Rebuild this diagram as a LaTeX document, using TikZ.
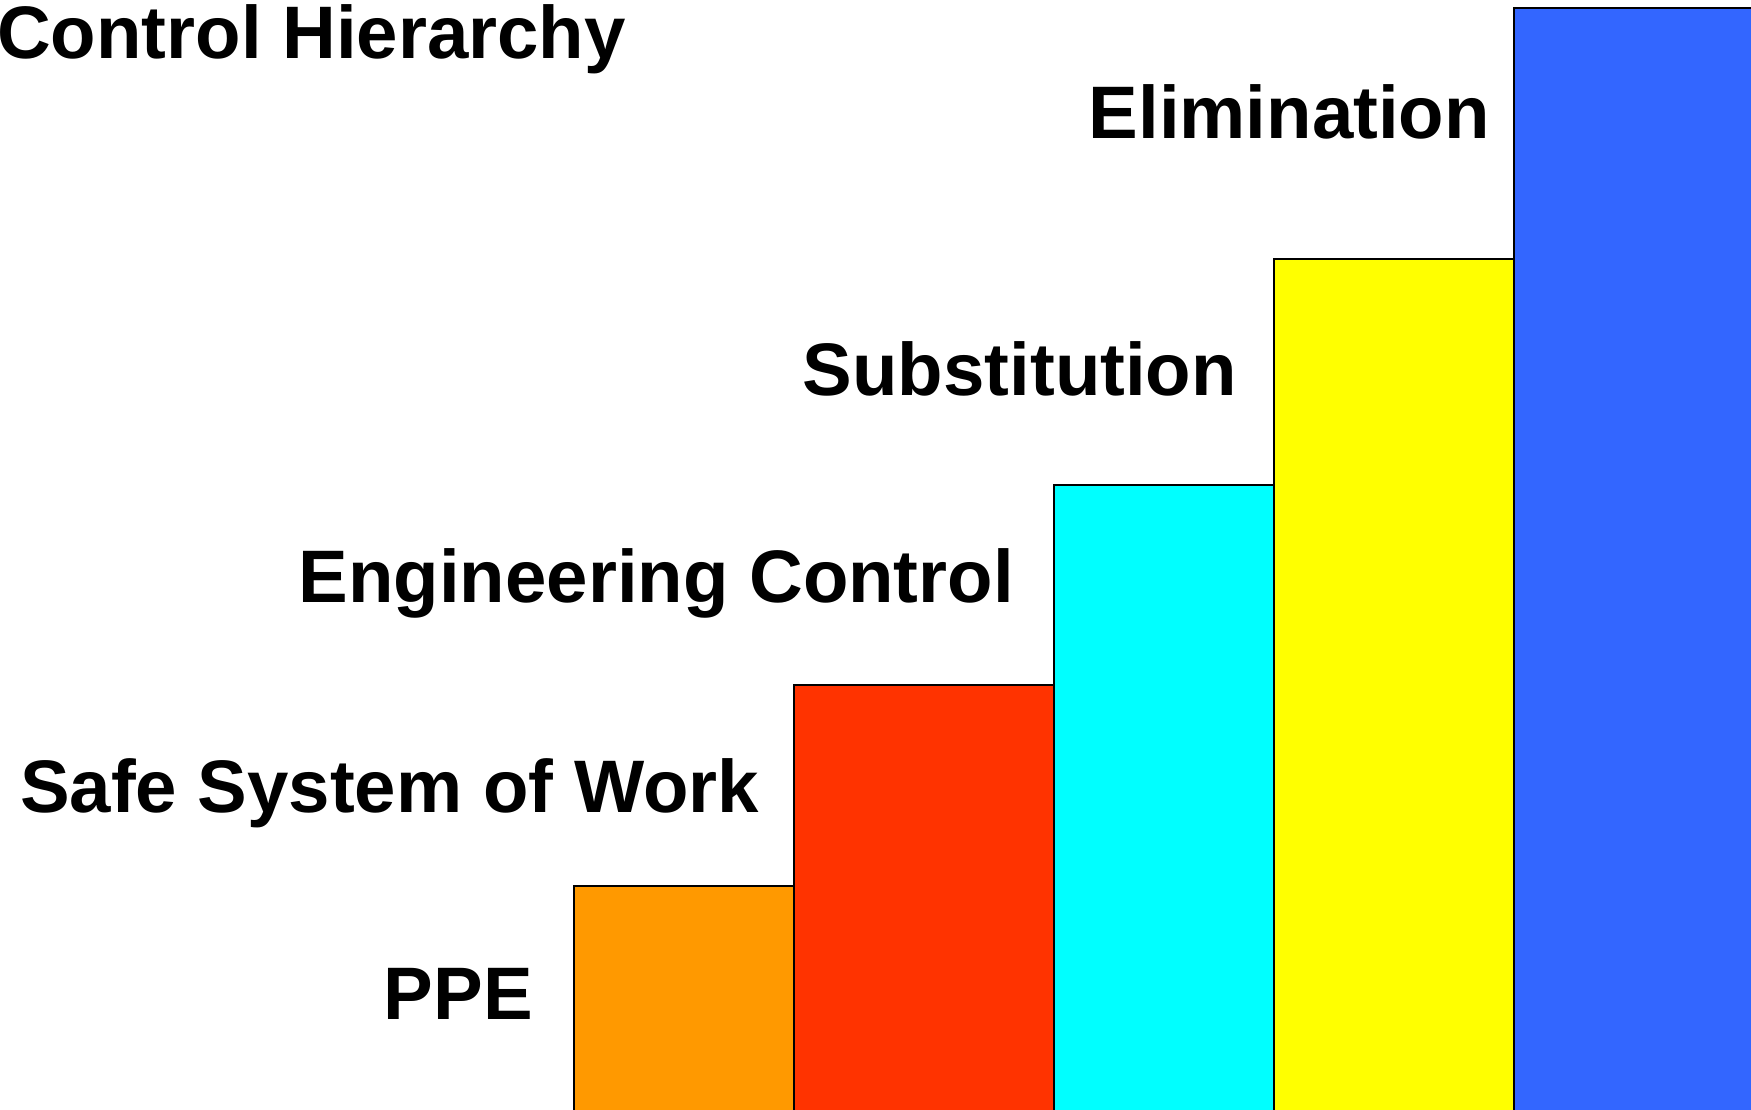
\documentclass[tikz,border=0pt]{standalone}
\usepackage{fontspec}
\setmainfont{Liberation Sans}
\definecolor{cOrange}{HTML}{FF9900}
\definecolor{cRed}{HTML}{FF3300}
\definecolor{cCyan}{HTML}{00FFFF}
\definecolor{cYellow}{HTML}{FFFF00}
\definecolor{cBlue}{HTML}{3366FF}
\tikzset{
  bar/.style={draw=black, line width=2pt, rectangle, inner sep=0pt, anchor=north west},
  lbl/.style={inner sep=0pt, anchor=base east, font=\fontsize{74.4}{80}\selectfont\bfseries},
  ttl/.style={inner sep=0pt, anchor=base west, font=\fontsize{74.4}{80}\selectfont\bfseries}
}
\begin{document}
\begin{tikzpicture}[x=1pt,y=-1pt]
\useasboundingbox (0,0) rectangle (1751,1110);
\clip (0,0) rectangle (1751,1110);
\fill[white] (0,0) rectangle (1751,1110);
\node[bar, fill=cOrange, minimum width=220pt, minimum height=240pt] (ppebar) at (573,885) {};
\node[bar, fill=cRed, minimum width=260pt, minimum height=440pt] (ssowbar) at (793,684) {};
\node[bar, fill=cCyan, minimum width=220pt, minimum height=640pt] (engbar) at (1053,484) {};
\node[bar, fill=cYellow, minimum width=240pt, minimum height=870pt] (subbar) at (1273,258) {};
\node[bar, fill=cBlue, minimum width=250pt, minimum height=1120pt] (elimbar) at (1513,7) {};
\node[ttl] (title) at (-3,59) {Control Hierarchy};
\node[lbl] (elim) at (1490,139) {Elimination};
\node[lbl] (subst) at (1237,395) {Substitution};
\node[lbl] (eng) at (1014,602) {Engineering Control};
\node[lbl] (ssow) at (759,812) {Safe System of Work};
\node[lbl] (ppe) at (533,1019) {PPE};
\end{tikzpicture}
\end{document}
